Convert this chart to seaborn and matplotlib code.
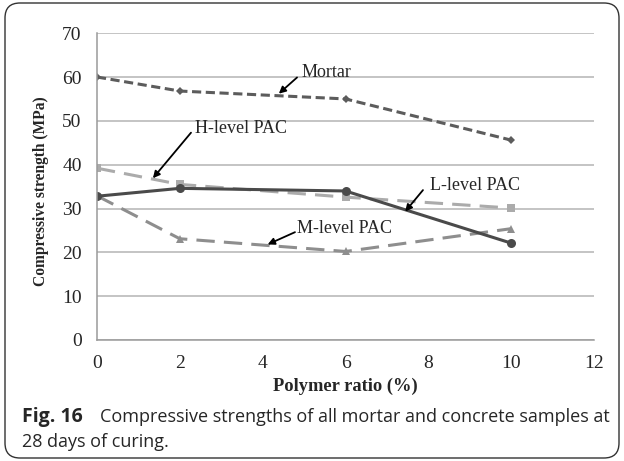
import numpy as np
import pandas as pd
import matplotlib
matplotlib.use("Agg")
import matplotlib.pyplot as plt
from matplotlib.patches import FancyBboxPatch
import seaborn as sns

sns.set_style("white")
plt.rcParams["font.family"] = ["Liberation Serif", "DejaVu Serif"]

# ---------------- DATA ----------------
polymer_ratio = [0, 2, 6, 10]
mortar = [60.0, 56.8, 55.0, 45.6]
h_level = [39.2, 35.5, 32.6, 30.1]
l_level = [32.8, 34.6, 34.0, 22.1]
m_level = [32.9, 23.1, 20.2, 25.4]

x_ticks = [0, 2, 4, 6, 8, 10, 12]
y_ticks = [0, 10, 20, 30, 40, 50, 60, 70]

# labels: (text, text position, arrow start, arrow tip)
labels = [
    ("Mortar", (4.93, 61.1), (4.83, 59.9), (4.39, 56.2)),
    ("H-level PAC", (2.37, 48.3), (2.27, 47.3), (1.35, 36.9)),
    ("L-level PAC", (8.04, 35.3), (7.87, 34.2), (7.44, 29.3)),
    ("M-level PAC", (4.83, 25.5), (4.78, 24.6), (4.12, 21.8)),
]

# ---------------- FIGURE ----------------
fig = plt.figure(figsize=(6.24, 4.61), dpi=100)
ax = fig.add_axes([0.1554, 0.2625, 0.7966, 0.6655])

series = [
    (h_level, "#ababab", (0, (6, 3)), "s", 6),
    (m_level, "#8e8e8e", (0, (6, 3)), "^", 6),
    (l_level, "#4a4a4a", "-", "o", 6.5),
    (mortar, "#5c5c5c", (0, (3, 1.5)), "D", 4.5),
]
for vals, col, ls, mk, ms in series:
    sns.lineplot(x=polymer_ratio, y=vals, ax=ax, color=col, linewidth=2.2,
                 linestyle=ls, marker=mk, markersize=ms, markeredgewidth=0,
                 markerfacecolor=col)

ax.set_xlim(0, 12)
ax.set_ylim(0, 70)
ax.set_xticks(x_ticks)
ax.set_yticks(y_ticks)
ax.tick_params(axis="both", labelsize=14, color="#9a9a9a", direction="out")
ax.tick_params(axis="y", length=5, pad=6)
ax.tick_params(axis="x", length=3, pad=8)
ax.yaxis.grid(True, color="#b4b4b4", linewidth=1.1)
ax.set_axisbelow(True)
for s in ["top", "right"]:
    ax.spines[s].set_visible(False)
for s in ["left", "bottom"]:
    ax.spines[s].set_color("#9a9a9a")
    ax.spines[s].set_linewidth(1.1)

ax.set_xlabel("Polymer ratio (%)", fontsize=13.3, fontweight="bold", labelpad=4)
ax.set_ylabel("Compressive strength (MPa)", fontsize=11.2, fontweight="bold")
ax.yaxis.set_label_coords(-0.097, 0.485)

for txt, tpos, start, tip in labels:
    ax.text(tpos[0], tpos[1], txt, fontsize=13, va="center", ha="left")
    ax.annotate("", xy=tip, xytext=start,
                arrowprops=dict(arrowstyle="-|>", color="black", lw=1.3,
                                mutation_scale=10, shrinkA=0, shrinkB=0))

# caption
cap_font = ["Open Sans", "DejaVu Sans"]
fig.text(0.035, 0.084, "Fig. 16", fontsize=14, fontweight="bold",
         family=cap_font, va="baseline")
fig.text(0.160, 0.084, "Compressive strengths of all mortar and concrete samples at",
         fontsize=13, family=cap_font, va="baseline")
fig.text(0.035, 0.030, "28 days of curing.", fontsize=13,
         family=cap_font, va="baseline")

# rounded frame
frame = FancyBboxPatch((0.05, 0.03), 6.14, 4.55,
                       boxstyle="round,pad=0,rounding_size=0.15",
                       transform=fig.dpi_scale_trans, fill=False,
                       edgecolor="#333333", linewidth=1.0)
fig.patches.append(frame)

fig.savefig("out.png", dpi=100)
